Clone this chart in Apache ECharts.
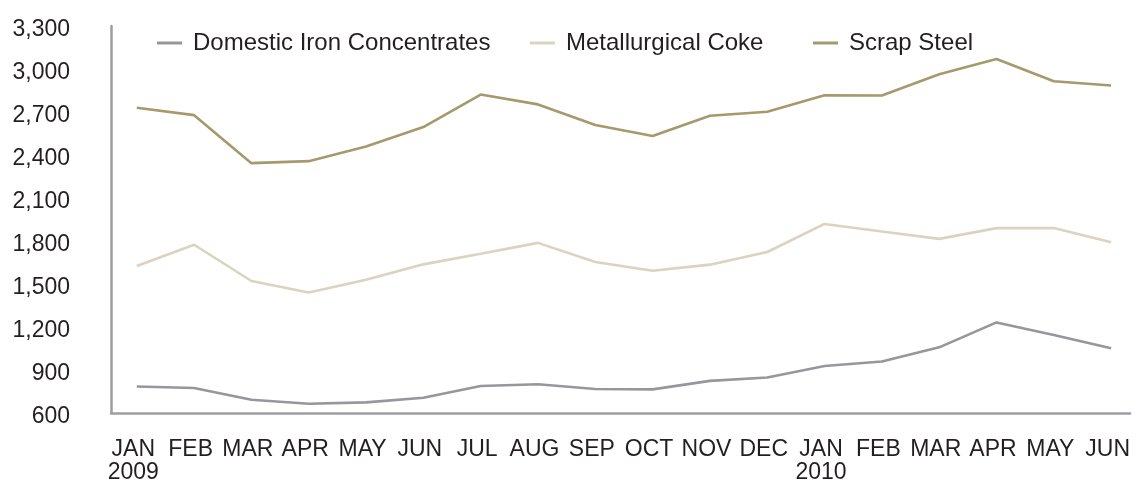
<!DOCTYPE html>
<html>
<head>
<meta charset="utf-8">
<script src="https://cdn.jsdelivr.net/npm/echarts@6/dist/echarts.min.js"></script>
<style>html,body{margin:0;padding:0;background:#fff}#c{width:1140px;height:484px}</style>
</head>
<body>
<div id="c"></div>
<script>
const months = ['JAN','FEB','MAR','APR','MAY','JUN','JUL','AUG','SEP','OCT','NOV','DEC','JAN','FEB','MAR','APR','MAY','JUN'];
const years = {0:'2009', 12:'2010'};
const yTicks = [600, 900, 1200, 1500, 1800, 2100, 2400, 2700, 3000, 3300];
const domesticIron = [785, 774, 692, 665, 674, 706, 788, 801, 767, 765, 824, 848, 928, 959, 1058, 1232, 1144, 1051];
const metCoke = [1626, 1774, 1521, 1440, 1530, 1637, 1711, 1787, 1653, 1593, 1635, 1723, 1919, 1866, 1815, 1890, 1890, 1792];
const scrapSteel = [2730, 2678, 2343, 2357, 2459, 2595, 2822, 2753, 2609, 2533, 2674, 2702, 2817, 2815, 2963, 3070, 2915, 2885];

const txt = '#231f20';
const font = 'Liberation Sans, Arial, Helvetica, sans-serif';
const toPts = arr => arr.map((v, i) => [i, v]);

const chart = echarts.init(document.getElementById('c'), null, {renderer: 'canvas'});
const legendBase = {
  orient: 'horizontal', top: 31, padding: 0, itemWidth: 25, itemHeight: 3, icon: 'rect',
  selectedMode: false,
  textStyle: {color: txt, fontSize: 24, fontFamily: font, padding: [0, 0, 0, 6]}
};
chart.setOption({
  animation: false,
  backgroundColor: '#fff',
  legend: [
    Object.assign({}, legendBase, {left: 157, data: ['Domestic Iron Concentrates']}),
    Object.assign({}, legendBase, {left: 530, data: ['Metallurgical Coke']}),
    Object.assign({}, legendBase, {left: 813, data: ['Scrap Steel']})
  ],
  grid: {left: 111, right: 6, top: 26, bottom: 69, containLabel: false},
  xAxis: {
    type: 'value', min: -0.45, max: 17.33,
    splitLine: {show: false},
    axisLine: {show: true, onZero: false, lineStyle: {color: '#9d9ea2', width: 2.5}},
    axisTick: {show: false},
    axisLabel: {
      customValues: months.map((m, i) => i),
      formatter: v => months[v] + (years[v] ? '\n' + years[v] : ''),
      color: txt, fontSize: 23, fontFamily: font, margin: 25, lineHeight: 23,
      padding: [0, 7, 0, 0],
      showMinLabel: true, showMaxLabel: true
    }
  },
  yAxis: {
    type: 'value', min: 600, max: 3300, interval: 300,
    splitLine: {show: false},
    axisLine: {show: true, onZero: false, lineStyle: {color: '#9d9ea2', width: 2.5}},
    axisTick: {show: false},
    axisLabel: {
      margin: 41,
      formatter: v => '{v|' + v.toLocaleString('en-US') + '}',
      rich: {v: {color: txt, fontSize: 23, fontFamily: font, padding: [7, 0, 0, 0]}}
    }
  },
  series: [
    {name: 'Domestic Iron Concentrates', type: 'line', data: toPts(domesticIron), symbol: 'none',
     lineStyle: {color: '#97979b', width: 2.6}, itemStyle: {color: '#97979b'}},
    {name: 'Metallurgical Coke', type: 'line', data: toPts(metCoke), symbol: 'none',
     lineStyle: {color: '#dcd3be', width: 2.6}, itemStyle: {color: '#dcd3be'}},
    {name: 'Scrap Steel', type: 'line', data: toPts(scrapSteel), symbol: 'none',
     lineStyle: {color: '#a6996c', width: 2.6}, itemStyle: {color: '#a6996c'}}
  ]
});
</script>
</body>
</html>
